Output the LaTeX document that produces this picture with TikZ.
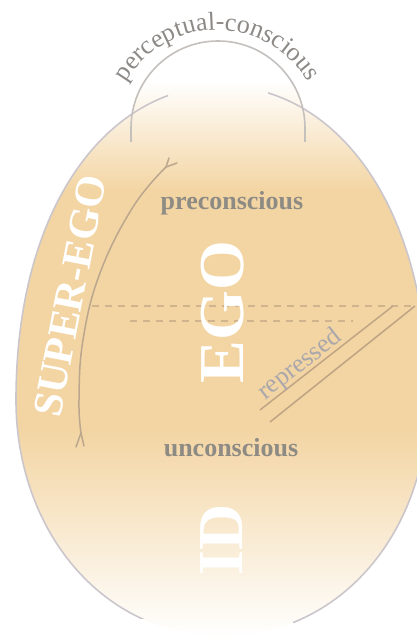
\documentclass[tikz,border=0pt]{standalone}
\usepackage{fontspec}
\setmainfont{Liberation Serif}
\usetikzlibrary{decorations.text}
\definecolor{peach}{HTML}{F3D5A3}
\definecolor{eggline}{HTML}{CBC6CB}
\definecolor{capline}{HTML}{C4C0BE}
\definecolor{dashcol}{HTML}{D0B48E}
\definecolor{tanline}{HTML}{C0A585}
\definecolor{sgline}{HTML}{BBA68E}
\definecolor{lblgrey}{HTML}{8E8A84}
\definecolor{repgrey}{HTML}{A9A7AC}
\definecolor{pcgrey}{HTML}{8C8986}
\begin{document}
\begin{tikzpicture}[x=1pt,y=1pt,
  zonelabel/.style={font=\fontsize{26}{26}\selectfont\bfseries, text=lblgrey, inner sep=0pt},
  biglabel/.style={font=\fontsize{64}{64}\selectfont\bfseries, text=white, inner sep=0pt},
  sglabel/.style={font=\fontsize{42}{42}\selectfont\bfseries, text=white, inner sep=0pt},
  replabel/.style={font=\fontsize{26}{26}\selectfont, text=repgrey, inner sep=0pt},
  outline/.style={eggline, line width=1.6pt},
  capstroke/.style={capline, line width=1.6pt},
  levelline/.style={dashcol, line width=1.3pt, dash pattern=on 7pt off 6pt},
  sgstroke/.style={sgline, line width=1.5pt, line cap=round},
  repline/.style={tanline, line width=1.5pt}]
\useasboundingbox (0,0) rectangle (417,641);
% fill of egg and cap
\begin{scope}
\clip (222,555) .. controls (112,555) and (16,441) .. (16,241)
      .. controls (16,111) and (102,5) .. (222,5)
      .. controls (342,5) and (428,111) .. (428,241)
      .. controls (428,441) and (332,555) .. (222,555) -- cycle
      (305,499) -- (305,513) arc[start angle=0, end angle=180, radius=87] -- (131,499) -- cycle;
\shade[bottom color=white, top color=peach] (0,4) rectangle (430,211);
\fill[peach] (0,210.5) rectangle (430,451.5);
\shade[bottom color=peach, top color=white] (0,451) rectangle (430,560);
\end{scope}
% egg outline, faded at top and bottom middle
\begin{scope}
\clip (-50,700) -- (168,700) -- (168,536) -- (268,536) -- (268,700) -- (480,700)
      -- (480,-50) -- (293,-50) -- (293,22) -- (137,22) -- (137,-50) -- (-50,-50) -- cycle;
\draw[outline] (222,555) .. controls (112,555) and (16,441) .. (16,241)
      .. controls (16,111) and (102,5) .. (222,5)
      .. controls (342,5) and (428,111) .. (428,241)
      .. controls (428,441) and (332,555) .. (222,555) -- cycle;
\end{scope}
% perceptual-conscious cap
\coordinate (capL) at (131,499);
\coordinate (capR) at (305,499);
\draw[capstroke] (capL) -- (131,513) arc[start angle=180, end angle=0, radius=87] -- (capR);
% level lines
\coordinate (d1a) at (92,335);
\coordinate (d1b) at (420,335);
\coordinate (d2a) at (130,320);
\coordinate (d2b) at (353,320);
\draw[levelline] (d1a) -- (d1b);
\draw[levelline] (d2a) -- (d2b);
% super-ego line with forked ends
\coordinate (sgbot) at (81,208);
\coordinate (sgtop) at (166,474);
\coordinate (sgtopa) at (169,483);
\coordinate (sgtopb) at (177,478);
\coordinate (sgbota) at (76,194);
\coordinate (sgbotb) at (84,195);
\draw[sgstroke] plot[smooth, tension=0.7] coordinates {(81,208) (79,241) (83,301) (100,368) (133,434) (166,474)};
\draw[sgstroke] (sgtop) -- (sgtopa);
\draw[sgstroke] (sgtop) -- (sgtopb);
\draw[sgstroke] (sgbot) -- (sgbota);
\draw[sgstroke] (sgbot) -- (sgbotb);
% repressed lines
\coordinate (r1a) at (260,231);
\coordinate (r1b) at (393,335);
\coordinate (r2a) at (270,219);
\coordinate (r2b) at (415,335);
\draw[repline] (r1a) -- (r1b);
\draw[repline] (r2a) -- (r2b);
% labels
\node[zonelabel, anchor=base] (pre) at (232,431) {preconscious};
\node[zonelabel, anchor=base] (unc) at (231,184) {unconscious};
\node[biglabel, rotate=90] (ego) at (222.5,329) {EGO};
\node[biglabel, rotate=90] (id) at (222,101) {ID};
\node[sglabel, rotate=79] (superego) at (70,345) {SUPER-EGO};
\node[replabel, rotate=38] (rep) at (300,276) {repressed};
\path[decorate, decoration={text along path, text align=center,
   text={|\fontsize{26}{26}\selectfont\color{pcgrey}|perceptual-conscious}}]
   (112.4,515.2) arc[start angle=175, end angle=5, radius=105];
\end{tikzpicture}
\end{document}
